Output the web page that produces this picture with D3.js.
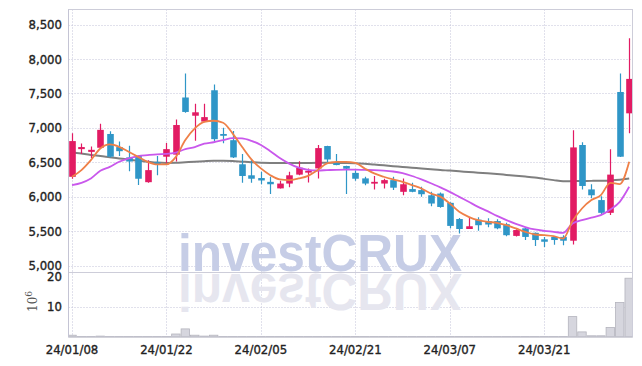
<!DOCTYPE html>
<html><head><meta charset="utf-8">
<script src="https://cdn.jsdelivr.net/npm/d3@7"></script>
<style>body{margin:0;background:#fff;} svg{display:block}</style>
</head><body><svg id="c" width="642" height="366"></svg>
<script>
const dates = ["24/01/08","24/01/09","24/01/10","24/01/11","24/01/12","24/01/15","24/01/16","24/01/17","24/01/18","24/01/19",
"24/01/22","24/01/23","24/01/24","24/01/25","24/01/26","24/01/29","24/01/30","24/01/31","24/02/01","24/02/02",
"24/02/05","24/02/06","24/02/07","24/02/08","24/02/13","24/02/14","24/02/15","24/02/16","24/02/19","24/02/20",
"24/02/21","24/02/22","24/02/23","24/02/26","24/02/27","24/02/28","24/02/29","24/03/04","24/03/05","24/03/06",
"24/03/07","24/03/08","24/03/11","24/03/12","24/03/13","24/03/14","24/03/15","24/03/18","24/03/19","24/03/20",
"24/03/21","24/03/22","24/03/25","24/03/26","24/03/27","24/03/28","24/03/29","24/04/01","24/04/02","24/04/03"];
const tickDates = ["24/01/08","24/01/22","24/02/05","24/02/21","24/03/07","24/03/21"];
const open  = [6288,6690,6650,6710,6910,6720,6570,6590,6210,6500, 6580,6610,7440,7175,7090,7545,6910,6820,6470,6310,
 6270,6215,6120,6190,6320,6350,6410,6735,6485,6445, 6345,6265,6190,6190,6240,6070,6110,6095,6020,6045,
 5910,5675,5530,5665,5645,5645,5600,5430,5540,5475, 5380,5415,5415,5360,6750,6105,5950,5765,7520,7210];
const high  = [6919,6770,6730,7060,6950,6800,6740,6600,6530,6590, 6780,7120,7790,7350,7350,7630,7000,6955,6620,6540,
 6360,6290,6230,6360,6515,6410,6750,6740,6620,6450, 6385,6290,6300,6260,6290,6265,6200,6145,6070,6060,
 5920,5690,5705,5700,5685,5670,5620,5525,5560,5480, 5415,5430,5440,6965,6790,6180,6005,6690,7790,8300];
const low   = [6260,6620,6560,6700,6570,6590,6370,6170,6200,6310, 6490,6510,7220,6810,7080,6800,6775,6560,6200,6200,
 6180,6040,6120,6135,6310,6205,6265,6480,6455,6040, 6230,6165,6105,6120,6095,6020,6065,6000,5860,5840,
 5540,5465,5530,5505,5555,5525,5425,5420,5370,5285, 5270,5300,5295,5305,6105,5975,5740,5735,6575,6920];
const close = [6807,6720,6680,6970,6580,6660,6510,6260,6385,6460, 6690,7040,7230,7225,7155,6835,6890,6570,6300,6260,
 6235,6180,6190,6310,6420,6375,6705,6540,6460,6405, 6260,6190,6215,6240,6130,6180,6070,6035,5900,5850,
 5575,5530,5570,5585,5595,5540,5440,5515,5415,5370, 5345,5370,5360,6715,6155,6020,5765,6320,6580,7710];
const ma5  = [6288,6385,6530,6700,6758,6724,6651,6578,6506,6468, 6468,6578,6821,6991,7087,7102,7073,6919,6724,6540,
 6410,6312,6250,6240,6264,6302,6385,6482,6506,6506, 6491,6410,6337,6289,6250,6216,6167,6119,6046,6000,
 5901,5780,5707,5658,5634,5620,5585,5538,5489,5450, 5440,5426,5392,5645,5828,5950,6022,6201,6182,6506];
const ma20 = [6167,6201,6264,6375,6433,6506,6555,6589,6603,6615, 6620,6640,6690,6720,6770,6790,6821,6850,6846,6810,
 6750,6660,6560,6480,6420,6390,6380,6385,6390,6392, 6392,6388,6385,6378,6365,6340,6300,6250,6195,6134,
 6070,5997,5925,5852,5790,5720,5660,5605,5558,5523, 5503,5489,5474,5610,5658,5697,5731,5813,5925,6143];
const ma60 = [6645,6625,6605,6590,6572,6555,6538,6522,6508,6495, 6490,6492,6500,6508,6515,6520,6520,6516,6508,6500,
 6494,6490,6488,6488,6489,6490,6491,6491,6490,6489, 6486,6478,6466,6455,6443,6432,6420,6410,6398,6386,
 6378,6368,6358,6348,6338,6328,6316,6304,6292,6278, 6258,6240,6224,6226,6228,6229,6231,6236,6246,6264];
const volume = [0.5,0.05,0.05,0.2,0.05,0.05,0.05,0.05,0.05,0.05, 0.05,0.9,2.6,0.5,0.2,0.5,0.05,0.05,0.05,0.05,
 0.05,0.05,0.05,0.05,0.05,0.05,0.05,0.05,0.05,0.05, 0.05,0.05,0.05,0.05,0.05,0.05,0.05,0.05,0.05,0.05,
 0.05,0.05,0.05,0.05,0.05,0.05,0.05,0.05,0.05,0.05, 0.05,0.05,0.05,6.7,1.6,0.3,0.3,3.1,11.4,19.5];
const priceTicks = [5000,5500,6000,6500,7000,7500,8000,8500];
const volTicks = [10,20];

const svg = d3.select("#c");
const L = 68.5, R = 632.5, T = 9.5, SEP = 272.5, B = 337;
const x = d3.scalePoint().domain(dates).range([72, 629.2]);
const y = d3.scaleLinear().domain([5000, 8500]).range([265.5, 24.5]);
const yv = d3.scaleLinear().domain([0, 20]).range([336.7, 276.7]);
const step = x.step();
const UP = "#e21b63", DOWN = "#2f96c7";
const font = "'DejaVu Sans Condensed','Liberation Sans Narrow',sans-serif";

const defs = svg.append("defs");
defs.append("clipPath").attr("id","cp").append("rect").attr("x",L).attr("y",T).attr("width",R-L).attr("height",SEP-T);
defs.append("clipPath").attr("id","cv").append("rect").attr("x",L).attr("y",SEP).attr("width",R-L).attr("height",B-SEP);

// grid
const grid = svg.append("g").attr("stroke","#c3c3d8").attr("stroke-dasharray","1,2").attr("stroke-width",1);
grid.selectAll("line.h").data(priceTicks).join("line")
  .attr("x1",L).attr("x2",R).attr("y1",d=>Math.round(y(d))+0.5).attr("y2",d=>Math.round(y(d))+0.5);
grid.selectAll("line.v").data(tickDates).join("line")
  .attr("x1",d=>Math.round(x(d))+0.5).attr("x2",d=>Math.round(x(d))+0.5).attr("y1",T).attr("y2",B);
grid.append("line").attr("x1",L).attr("x2",R).attr("y1",Math.round(yv(10))+0.5).attr("y2",Math.round(yv(10))+0.5);

// watermark
const wm = svg.append("g").attr("font-family","'Liberation Sans',Arial,sans-serif").attr("font-weight","bold").attr("font-size",51);
wm.append("text").attr("x",178).attr("y",271).attr("fill","#c6cde6").attr("textLength",284).attr("lengthAdjust","spacingAndGlyphs").text("investCRUX");
wm.append("text").attr("transform","translate(0,545) scale(1,-1)").attr("x",178).attr("y",271).attr("fill","#e6e6ef").attr("textLength",284).attr("lengthAdjust","spacingAndGlyphs").text("investCRUX");

// volume bars
svg.append("g").attr("clip-path","url(#cv)").selectAll("rect").data(dates).join("rect")
  .attr("x",d=>x(d)-step/2+0.5).attr("width",step-1)
  .attr("y",(d,i)=>yv(volume[i])).attr("height",(d,i)=>yv(0)-yv(volume[i]))
  .attr("fill","#d6d6de").attr("stroke","#b4b4bd").attr("stroke-width",0.8);

// MA lines & candles
const pg = svg.append("g").attr("clip-path","url(#cp)");
const line = arr => d3.line().x((d,i)=>x(dates[i])).y(d=>y(d)).curve(d3.curveMonotoneX)(arr);
pg.append("path").attr("d",line(ma60)).attr("fill","none").attr("stroke","#7f7f7f").attr("stroke-width",2);

const cg = pg.append("g");
dates.forEach((d,i)=>{
  const col = close[i] >= open[i] ? UP : DOWN;
  const cx = Math.round(x(d))+0.5;
  cg.append("line").attr("x1",cx).attr("x2",cx).attr("y1",y(high[i])).attr("y2",y(low[i])).attr("stroke",col).attr("stroke-width",1.2);
  const top = y(Math.max(open[i],close[i])), bot = y(Math.min(open[i],close[i]));
  cg.append("rect").attr("x",cx-3.3).attr("width",6.6).attr("y",top).attr("height",Math.max(bot-top,1.8)).attr("fill",col);
});
pg.append("path").attr("d",line(ma20)).attr("fill","none").attr("stroke","#c958ec").attr("stroke-width",1.8);
pg.append("path").attr("d",line(ma5)).attr("fill","none").attr("stroke","#ef8048").attr("stroke-width",1.8);

// frame
const fr = svg.append("g").attr("stroke","#cdcdd9").attr("stroke-width",1).attr("fill","none");
fr.append("rect").attr("x",L).attr("y",T).attr("width",R-L).attr("height",B-T);
fr.append("line").attr("x1",L).attr("x2",R).attr("y1",SEP).attr("y2",SEP);
svg.append("line").attr("x1",L).attr("x2",R).attr("y1",B).attr("y2",B).attr("stroke","#bfbfc8");
svg.append("line").attr("x1",L).attr("x2",L).attr("y1",T).attr("y2",B).attr("stroke","#c4c4d4");

// labels
const fmt = d3.format(",");
const lab = sel => sel.attr("font-family",font).attr("font-size",13).attr("fill","#222")
  .attr("stroke","#222").attr("stroke-width",0.35);
lab(svg.append("g").selectAll("text").data(priceTicks).join("text")
  .attr("x",62).attr("y",d=>y(d)).attr("dy","0.36em").attr("text-anchor","end")).text(d=>fmt(d));
lab(svg.append("g").selectAll("text").data(volTicks).join("text")
  .attr("x",62).attr("y",d=>yv(d)).attr("dy","0.36em").attr("text-anchor","end")).text(d=>d);
lab(svg.append("g").selectAll("text").data(tickDates).join("text")
  .attr("x",d=>x(d)).attr("y",354).attr("text-anchor","middle")).text(d=>d);
const ex = svg.append("text").attr("transform","translate(37,312) rotate(-90)")
  .attr("font-family","'DejaVu Serif',serif").attr("font-size",12).attr("fill","#555");
ex.append("tspan").text("10");
ex.append("tspan").attr("dy",-5).attr("font-size",9).text("6");
</script></body></html>
